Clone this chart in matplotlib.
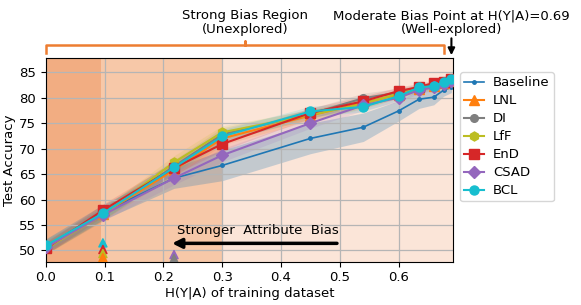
import matplotlib
matplotlib.use("Agg")
import matplotlib.pyplot as plt
import numpy as np

# H(Y|A) values of the training sets
x = [0.0, 0.097, 0.218, 0.30, 0.45, 0.54, 0.60, 0.635, 0.66, 0.677, 0.69]

methods = ["Baseline", "LNL", "DI", "LfF", "EnD", "CSAD", "BCL"]
baseline = [50.8, 57.5, 64.2, 66.7, 72.0, 74.2, 77.4, 79.7, 80.1, 81.5, 82.0]
lnl = [50.6, 57.2, 65.8, 72.0, 76.5, 79.0, 80.6, 81.8, 82.3, 82.8, 83.3]
di = [50.8, 57.3, 66.5, 72.8, 76.8, 79.9, 81.0, 82.0, 82.5, 83.0, 83.5]
lff = [50.4, 57.0, 67.3, 73.2, 76.6, 78.8, 80.8, 81.8, 82.0, 82.6, 83.2]
end = [50.4, 57.9, 66.2, 70.9, 77.0, 79.3, 81.3, 82.1, 82.9, 83.1, 83.6]
csad = [50.6, 57.0, 64.2, 68.7, 75.0, 78.5, 80.0, 81.5, 82.0, 82.6, 83.2]
bcl = [51.0, 57.3, 66.3, 72.4, 77.3, 78.2, 80.3, 82.0, 82.3, 83.0, 83.7]

baseline_std = [1.5, 1.5, 2.0, 3.0, 3.0, 2.8, 2.0, 1.8, 1.5, 1.2, 1.0]
method_std = [1.2, 1.2, 1.3, 1.3, 1.0, 1.0, 0.8, 0.7, 0.6, 0.6, 0.6]

# isolated triangle markers near the bottom
tri_x = [0.097, 0.097, 0.097, 0.097, 0.218, 0.218]
tri_y = [51.5, 50.2, 49.4, 48.6, 49.2, 48.4]
tri_c = ["tab:cyan", "tab:red", "tab:olive", "tab:orange", "tab:purple", "tab:gray"]

series = [baseline, lnl, di, lff, end, csad, bcl]
colors = ["tab:blue", "tab:orange", "tab:gray", "tab:olive", "tab:red", "tab:purple", "tab:cyan"]
markers = [".", "^", "o", "h", "s", "D", "o"]
msizes = [5, 6.5, 5.5, 6.5, 6.5, 6.5, 6.5]

fs = 9.5
fig = plt.figure(figsize=(5.81, 3.05), dpi=100)
ax = fig.add_axes([0.079, 0.142, 0.701, 0.668])

# background regions
ax.axvspan(0, 0.094, color="#f2ad82", lw=0, zorder=0)
ax.axvspan(0.094, 0.30, color="#f7c8a8", lw=0, zorder=0)
ax.axvspan(0.30, 0.70, color="#fbe5d8", lw=0, zorder=0)
ax.grid(True, color="#b5b5b5", linewidth=0.9, zorder=0.5)

for i, (name, y) in enumerate(zip(methods, series)):
    y = np.array(y)
    s = np.array(baseline_std if i == 0 else method_std)
    ax.fill_between(x, y - s, y + s, color=colors[i], alpha=0.25 if i == 0 else 0.15,
                    lw=0, zorder=1)
    ax.plot(x, y, color=colors[i], marker=markers[i], markersize=msizes[i],
            lw=1.5 if i else 1.2, label=name, zorder=2 + i)

ax.scatter(tri_x, tri_y, c=tri_c, marker="^", s=34, zorder=10, clip_on=True)

ax.set_xlim(0, 0.693)
ax.set_ylim(47.8, 87.8)
ax.set_xticks([0.0, 0.1, 0.2, 0.3, 0.4, 0.5, 0.6])
ax.set_yticks([50, 55, 60, 65, 70, 75, 80, 85])
ax.tick_params(labelsize=fs)
ax.set_xlabel("H(Y|A) of training dataset", fontsize=fs, labelpad=2)
ax.set_ylabel("Test Accuracy", fontsize=fs, labelpad=2)

# stronger bias arrow
ax.annotate("", xy=(0.21, 51.4), xytext=(0.5, 51.4),
            arrowprops=dict(arrowstyle="-|>", color="black", lw=2.5, mutation_scale=14))
ax.text(0.36, 53.9, "Stronger  Attribute  Bias", ha="center", va="center", fontsize=fs)

# bracket above the axes
bx = [0.0, 0.0, 0.49, 0.49, 0.49, 0.978, 0.978]
by = [1.022, 1.066, 1.066, 1.083, 1.066, 1.066, 1.022]
ax.plot(bx, by, color="#ed7d31", lw=1.8, transform=ax.transAxes, clip_on=False,
        solid_joinstyle="round")
ax.text(0.49, 1.175, "Strong Bias Region\n(Unexplored)", transform=ax.transAxes,
        ha="center", va="center", fontsize=fs, linespacing=1.05)
trans = ax.get_xaxis_transform()
ax.text(0.69, 1.175, "Moderate Bias Point at H(Y|A)=0.69\n(Well-explored)", transform=trans,
        ha="center", va="center", fontsize=fs, linespacing=1.05)
ax.annotate("", xy=(0.69, 1.0), xytext=(0.69, 1.11), xycoords=trans, textcoords=trans,
            arrowprops=dict(arrowstyle="-|>", color="black", lw=1.5, mutation_scale=10))

ax.legend(loc="upper left", bbox_to_anchor=(1.017, 0.93), fontsize=fs,
          handlelength=1.5, handletextpad=0.7, borderpad=0.3, borderaxespad=0,
          labelspacing=0.38)

fig.savefig("out.png", dpi=100)
